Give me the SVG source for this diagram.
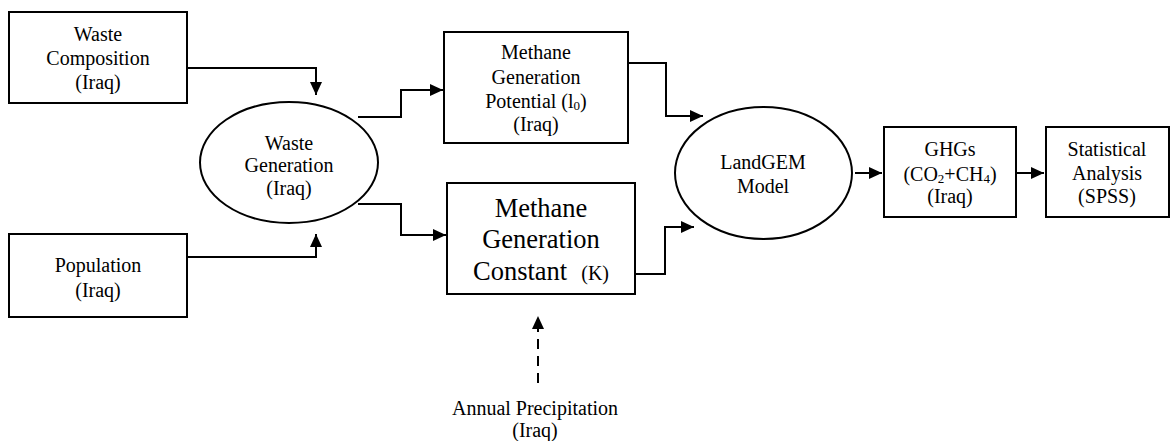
<svg xmlns="http://www.w3.org/2000/svg" width="1171" height="441" viewBox="0 0 1171 441">
<style>
.box{fill:#fff;stroke:#000;stroke-width:2}
.t{font-family:"Liberation Serif","Times New Roman",serif;font-size:20px;fill:#000;text-anchor:middle}
.big{font-size:26.5px}
.c{fill:none;stroke:#000;stroke-width:2}
.d{stroke-dasharray:10 7}
</style>
<defs>
<marker id="ah" markerUnits="userSpaceOnUse" markerWidth="13" markerHeight="12" refX="13" refY="6" orient="auto" viewBox="0 0 13 12">
<path d="M0,0 L13,6 L0,12 z" fill="#000"/>
</marker>
</defs>
<rect width="1171" height="441" fill="#fff"/>
<g id="connectors">
<path class="c" d="M187,68 H316 V95" marker-end="url(#ah)"/>
<path class="c" d="M187,257 H316 V234" marker-end="url(#ah)"/>
<path class="c" d="M358,117 H401 V90 H443" marker-end="url(#ah)"/>
<path class="c" d="M358,204 H401 V235 H446" marker-end="url(#ah)"/>
<path class="c" d="M628,63 H666 V116 H703" marker-end="url(#ah)"/>
<path class="c" d="M635,274 H665 V227 H694" marker-end="url(#ah)"/>
<path class="c" d="M855,173 H882" marker-end="url(#ah)"/>
<path class="c" d="M1016,173 H1044" marker-end="url(#ah)"/>
<path class="c d" d="M538,383 V316" marker-end="url(#ah)"/>
</g>
<g id="waste-composition">
<rect class="box" x="9" y="12" width="178" height="91"/>
<text class="t" x="98" y="41">Waste</text>
<text class="t" x="98" y="65">Composition</text>
<text class="t" x="98" y="89">(Iraq)</text>
</g>
<g id="population">
<rect class="box" x="9" y="234" width="178" height="83"/>
<text class="t" x="98" y="272">Population</text>
<text class="t" x="98" y="297">(Iraq)</text>
</g>
<g id="waste-generation">
<ellipse class="box" cx="289" cy="162.5" rx="89" ry="60.5"/>
<text class="t" x="289" y="150">Waste</text>
<text class="t" x="289" y="172">Generation</text>
<text class="t" x="289" y="195">(Iraq)</text>
</g>
<g id="methane-potential">
<rect class="box" x="444" y="32" width="184" height="111"/>
<text class="t" x="536" y="59">Methane</text>
<text class="t" x="536" y="84">Generation</text>
<text class="t" x="536" y="108">Potential (l<tspan font-size="13" dy="2">0</tspan><tspan dy="-2">)</tspan></text>
<text class="t" x="536" y="131">(Iraq)</text>
</g>
<g id="methane-constant">
<rect class="box" x="447" y="183" width="188" height="111"/>
<text class="t big" x="541" y="217">Methane</text>
<text class="t big" x="541" y="248">Generation</text>
<text class="t" x="541" y="280"><tspan font-size="26.5px">Constant</tspan><tspan dx="14">(K)</tspan></text>
</g>
<g id="landgem">
<ellipse class="box" cx="763.5" cy="173" rx="88.5" ry="66"/>
<text class="t" x="763" y="169">LandGEM</text>
<text class="t" x="763" y="193">Model</text>
</g>
<g id="ghgs">
<rect class="box" x="884" y="127" width="132" height="90"/>
<text class="t" x="950" y="156">GHGs</text>
<text class="t" x="950" y="181">(CO<tspan font-size="13" dy="2">2</tspan><tspan dy="-2">+CH</tspan><tspan font-size="13" dy="2">4</tspan><tspan dy="-2">)</tspan></text>
<text class="t" x="950" y="203">(Iraq)</text>
</g>
<g id="statistical-analysis">
<rect class="box" x="1046" y="127" width="123" height="90"/>
<text class="t" x="1107" y="156">Statistical</text>
<text class="t" x="1107" y="180">Analysis</text>
<text class="t" x="1107" y="203">(SPSS)</text>
</g>
<g id="annual-precipitation">
<text class="t" x="535" y="415">Annual Precipitation</text>
<text class="t" x="535" y="437">(Iraq)</text>
</g>
</svg>
